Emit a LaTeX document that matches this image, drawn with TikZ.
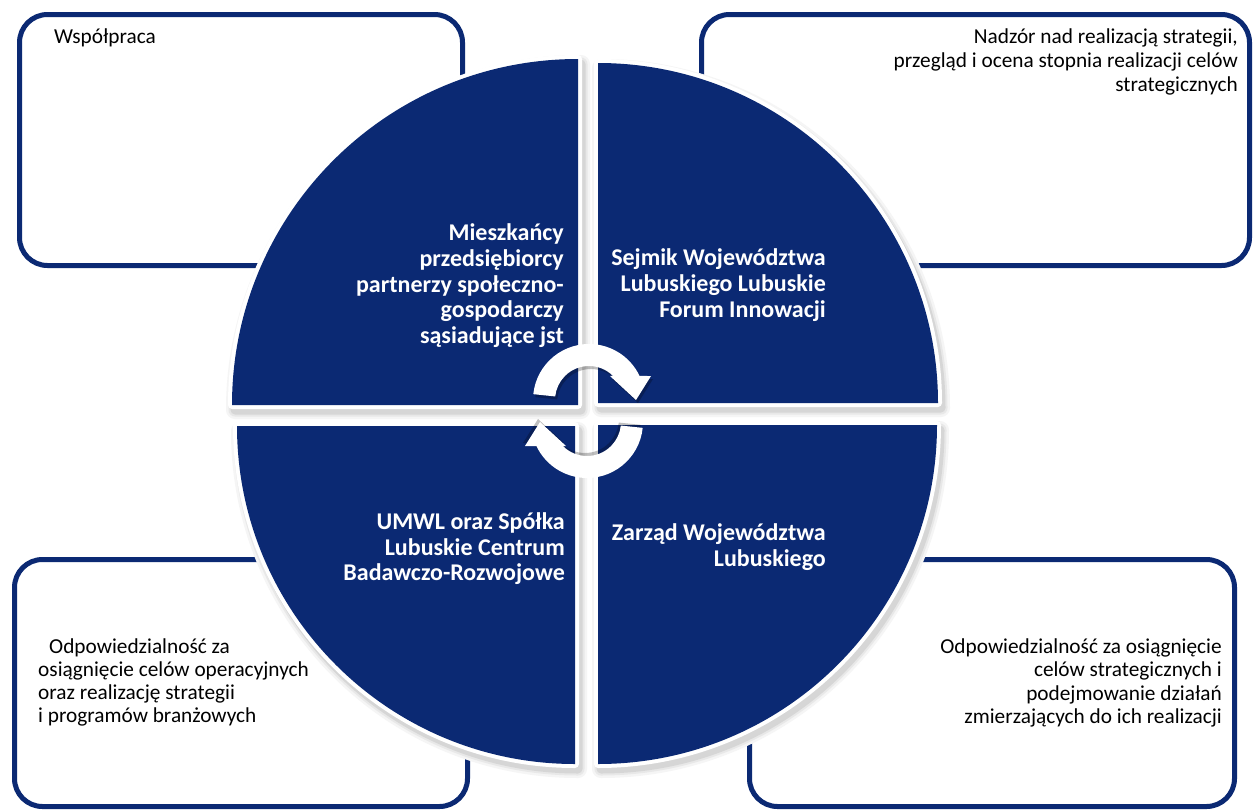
\documentclass[tikz,border=0pt]{standalone}
\usepackage{fontspec}
\setmainfont{Carlito}
\usetikzlibrary{calc}
\definecolor{navy}{RGB}{11,41,115}
\begin{document}
\begin{tikzpicture}[x=1pt,y=-1pt,
  infobox/.style={draw=navy, line width=5pt, fill=white, rounded corners=28pt},
  boxtext/.style={font=\fontsize{21.3pt}{24pt}\selectfont, inner sep=0pt, text=black},
  qtext/.style={font=\fontsize{24pt}{26pt}\selectfont\bfseries, inner sep=0pt, text=white},
  shadowA/.style={fill=black!4, draw=black!4, line width=18pt, line join=round},
  shadowB/.style={fill=black!9, draw=black!9, line width=13pt, line join=round},
  shadowC/.style={fill=black!16, draw=black!16, line width=9pt, line join=round},
  qborder/.style={draw=white, fill=white, line width=8pt, line join=round},
  qfill/.style={fill=navy},
  arrowshadow/.style={fill=black, opacity=0.25},
  arrowfill/.style={fill=white}
]
\useasboundingbox (0,0) rectangle (1256,809);
\fill[white] (0,0) rectangle (1256,809);

% outer information boxes
\path[infobox] (19.5,14.5) rectangle (462.5,265.5);
\path[infobox] (701.5,14.5) rectangle (1249.5,265.5);
\path[infobox] (14.5,559.5) rectangle (467.5,806.5);
\path[infobox] (749.5,559.5) rectangle (1234.5,806.5);

% box texts
\node[boxtext, anchor=base west] (wsp) at (54,43) {Współpraca};
\node[boxtext, anchor=base east] (tr1) at (1238,43) {Nadzór nad realizacją strategii,};
\node[boxtext, anchor=base east] (tr2) at (1238,67) {przegląd i ocena stopnia realizacji celów};
\node[boxtext, anchor=base east] (tr3) at (1238,91) {strategicznych};
\node[boxtext, anchor=base west] (bl1) at (49,653) {Odpowiedzialność za};
\node[boxtext, anchor=base west] (bl2) at (38,676) {osiągnięcie celów operacyjnych};
\node[boxtext, anchor=base west] (bl3) at (38,699) {oraz realizację strategii};
\node[boxtext, anchor=base west] (bl4) at (38,722) {i programów branżowych};
\node[boxtext, anchor=base east] (br1) at (1222,653) {Odpowiedzialność za osiągnięcie};
\node[boxtext, anchor=base east] (br2) at (1222,676) {celów strategicznych i};
\node[boxtext, anchor=base east] (br3) at (1222,700) {podejmowanie działań};
\node[boxtext, anchor=base east] (br4) at (1222,723) {zmierzających do ich realizacji};

% quadrant shadows
\foreach \cx/\cy/\r/\a in {578/405/346/180, 598/403/340/270, 598/425/339/0, 575/426/338/90}{
  \path[shadowA] ({\cx+3},{\cy+5}) -- ++(\a:\r) arc[start angle=\a, delta angle=90, radius=\r] -- cycle;
  \path[shadowB] ({\cx+3},{\cy+5}) -- ++(\a:\r) arc[start angle=\a, delta angle=90, radius=\r] -- cycle;
  \path[shadowC] ({\cx+3},{\cy+5}) -- ++(\a:\r) arc[start angle=\a, delta angle=90, radius=\r] -- cycle;
}
% white borders
\foreach \cx/\cy/\r/\a in {578/405/346/180, 598/403/340/270, 598/425/339/0, 575/426/338/90}{
  \path[qborder] (\cx,\cy) -- ++(\a:\r) arc[start angle=\a, delta angle=90, radius=\r] -- cycle;
}
% blue quadrants
\foreach \cx/\cy/\r/\a in {578/405/346/180, 598/403/340/270, 598/425/339/0, 575/426/338/90}{
  \path[qfill] (\cx,\cy) -- ++(\a:\r) arc[start angle=\a, delta angle=90, radius=\r] -- cycle;
}

% quadrant texts
\node[qtext, anchor=base east] (q1a) at (564,240) {Mieszkańcy};
\node[qtext, anchor=base east] (q1b) at (564,266) {przedsiębiorcy};
\node[qtext, anchor=base east] (q1c) at (564,292) {partnerzy społeczno-};
\node[qtext, anchor=base east] (q1d) at (564,317) {gospodarczy};
\node[qtext, anchor=base east] (q1e) at (564,343) {sąsiadujące jst};
\node[qtext, anchor=base east] (q2a) at (826,265) {Sejmik Województwa};
\node[qtext, anchor=base east] (q2b) at (826,291) {Lubuskiego Lubuskie};
\node[qtext, anchor=base east] (q2c) at (826,317) {Forum Innowacji};
\node[qtext, anchor=base east] (q3a) at (565,529) {UMWL oraz Spółka};
\node[qtext, anchor=base east] (q3b) at (565,555) {Lubuskie Centrum};
\node[qtext, anchor=base east] (q3c) at (565,580) {Badawczo-Rozwojowe};
\node[qtext, anchor=base east] (q4a) at (826,540) {Zarząd Województwa};
\node[qtext, anchor=base east] (q4b) at (826,566) {Lubuskiego};

% central circular arrows
\foreach \ccx/\ccy/\rot in {589/400/0, 587/422/180}{
  \begin{scope}[shift={(\ccx,\ccy)}, rotate=\rot]
    \path[arrowshadow, shift={(2,3)}] (186:56) arc[start angle=186, end angle=334.6, radius=56]
      -- (62,-24) -- (47,0) -- (21,-24) -- (315:34) arc[start angle=315, end angle=186, radius=34] -- cycle;
    \path[arrowfill] (186:56) arc[start angle=186, end angle=334.6, radius=56]
      -- (62,-24) -- (47,0) -- (21,-24) -- (315:34) arc[start angle=315, end angle=186, radius=34] -- cycle;
  \end{scope}
}
\end{tikzpicture}
\end{document}
